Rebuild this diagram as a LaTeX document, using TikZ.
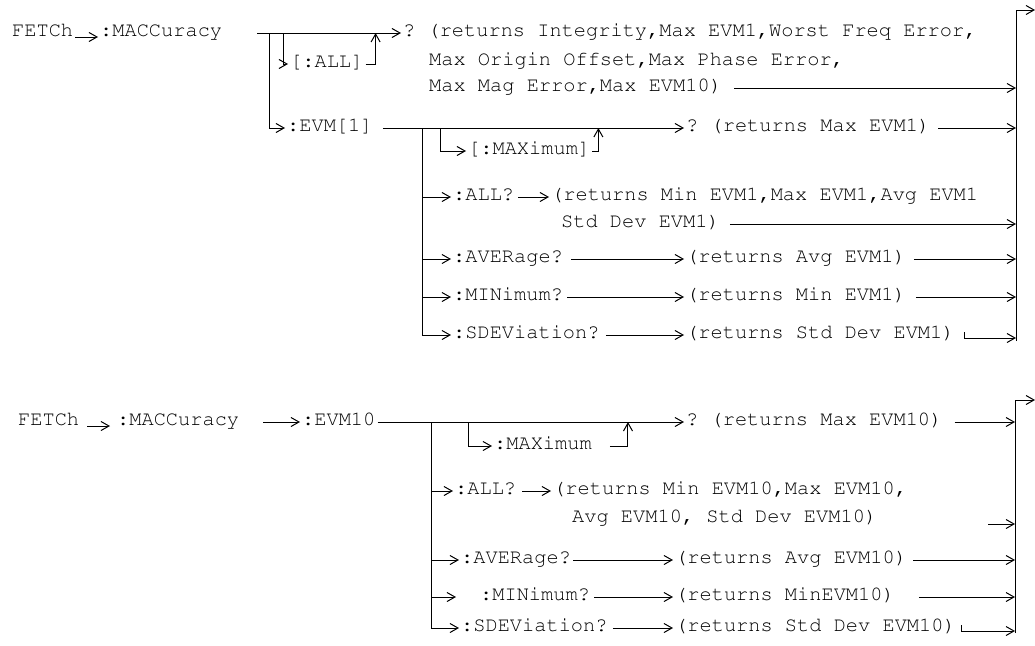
\documentclass[tikz,border=0pt]{standalone}
\usepackage[T1]{fontenc}
\usepackage{courier}
\usetikzlibrary{arrows.meta,calc}
\newcommand{\cmdfont}{\fontsize{20.33}{24}\selectfont\ttfamily\frenchspacing}
\tikzset{
  txt/.style={anchor=west,inner xsep=2pt,inner ysep=0pt,text height=10pt,text depth=4pt,font=\cmdfont},
  ln/.style={line width=1pt},
  arr/.style={ln,-{Straight Barb[length=8pt,width=9pt]}}
}
\begin{document}
\begin{tikzpicture}[x=1pt,y=-1pt]
        \useasboundingbox (0,0) rectangle (1035,645);
        % first tree: FETCh:MACCuracy[:ALL] and :EVM[1]
        \node[txt] (fetA) at (10,33) {FETCh};
        \node[txt] (macA) at (98,33) {:MACCuracy};
        \draw[arr] ([yshift=-4pt]fetA.east) -- ([yshift=-4pt]macA.west);
        \coordinate (mA) at (257,33);
        \coordinate (jA) at (269,33);
        \coordinate (kA) at (283,33);
        \node[txt] (qA) at (401,33) {? (returns Integrity,Max EVM1,Worst Freq Error,};
        \node[txt] (qA2) at (427,62) {Max Origin Offset,Max Phase Error,};
        \node[txt] (qA3) at (427,88) {Max Mag Error,Max EVM10)};
        \draw[arr] (mA) -- (qA.west);
        \node[txt] (allA) at (288,64) {[:ALL]};
        \draw[arr] (kA) |- (allA.west);
        \coordinate (uA0) at ([xshift=10pt]allA.east);
        \coordinate (uA) at (uA0 |- mA);
        \draw[arr] (allA.east) -| (uA);
        \node[txt] (evmA) at (285,128) {:EVM[1]};
        \draw[arr] (jA) |- (evmA.west);
        \node[txt] (qB) at (684,128) {? (returns Max EVM1)};
        \draw[arr] ([xshift=8pt]evmA.east) -- (qB.west);
        \coordinate (jB) at (422,128);
        \coordinate (kB) at (440,128);
        \node[txt] (maxA) at (466,151) {[:MAXimum]};
        \draw[arr] (kB) |- (maxA.west);
        \coordinate (uB0) at ([xshift=6pt]maxA.east);
        \coordinate (uB) at (uB0 |- jB);
        \draw[arr] (maxA.east) -| (uB);
        \node[txt] (allB) at (451,197) {:ALL?};
        \node[txt] (rAllB) at (549,197) {(returns Min EVM1,Max EVM1,Avg EVM1};
        \node[txt] (rAllB2) at (559,224) {Std Dev EVM1)};
        \node[txt] (avgB) at (451,259) {:AVERage?};
        \node[txt] (rAvgB) at (684,259) {(returns Avg EVM1)};
        \node[txt] (minB) at (451,297) {:MINimum?};
        \node[txt] (rMinB) at (684,297) {(returns Min EVM1)};
        \node[txt] (sdvB) at (451,335) {:SDEViation?};
        \node[txt] (rSdvB) at (684,335) {(returns Std Dev EVM1)};
        \foreach \n in {allB,avgB,minB,sdvB}
            \draw[arr] (jB) |- (\n.west);
        \draw[arr] ([xshift=2pt]allB.east) -- (rAllB.west);
        \draw[arr] ([xshift=6pt]avgB.east) -- (rAvgB.west);
        \draw[arr] ([xshift=2pt]minB.east) -- (rMinB.west);
        \draw[arr] ([xshift=4pt]sdvB.east) -- (rSdvB.west);
        % exit bar
        \coordinate (barA) at (1016,10);
        \coordinate (barA2) at (1016,341);
        \coordinate (outA) at (1035,10);
        \draw[arr] (barA2) -- (barA) -- (outA);
        \foreach \n/\g in {qA3/10,qB/6,rAllB2/8,rAvgB/6,rMinB/8}
            \draw[arr] ([xshift=\g pt]\n.east) -- (\n.east -| barA);
        \coordinate (tA) at ([xshift=8pt,yshift=3pt]rSdvB.east);
        \coordinate (bA6) at (1016,338);
        \draw[arr] (tA) |- (bA6);

        % second tree: FETCh:MACCuracy:EVM10
        \node[txt] (fetB) at (16,422) {FETCh};
        \node[txt] (macB) at (115,422) {:MACCuracy};
        \draw[arr] ([xshift=6pt,yshift=-4pt]fetB.east) -- ([xshift=-5pt,yshift=-4pt]macB.west);
        \node[txt] (evmB) at (300,422) {:EVM10};
        \draw[arr] ([xshift=22pt]macB.east) -- (evmB.west);
        \node[txt] (qC) at (684,422) {? (returns Max EVM10)};
        \draw[arr] (evmB.east) -- (qC.west);
        \coordinate (jC) at (431,422);
        \coordinate (kC) at (468,422);
        \node[txt] (maxB) at (492,446) {:MAXimum};
        \draw[arr] (kC) |- (maxB.west);
        \coordinate (uC0) at ([xshift=34pt]maxB.east);
        \coordinate (uC) at (uC0 |- jC);
        \draw[arr] ([xshift=16pt]maxB.east) -| (uC);
        \node[txt] (allC) at (453,491) {:ALL?};
        \node[txt] (rAllC) at (551,491) {(returns Min EVM10,Max EVM10,};
        \node[txt] (rAllC2) at (570,519) {Avg EVM10, Std Dev EVM10)};
        \node[txt] (avgC) at (459,560) {:AVERage?};
        \node[txt] (rAvgC) at (673,560) {(returns Avg EVM10)};
        \node[txt] (minC) at (478,597) {:MINimum?};
        \node[txt] (rMinC) at (673,597) {(returns MinEVM10)};
        \node[txt] (sdvC) at (459,628) {:SDEViation?};
        \node[txt] (rSdvC) at (673,628) {(returns Std Dev EVM10)};
        \draw[arr] (jC) |- (allC.west);
        \draw[arr] (jC) |- (avgC.west);
        \draw[arr] (jC) |- ([xshift=-22pt]minC.west);
        \draw[arr] (jC) |- (sdvC.west);
        \draw[arr] ([xshift=4pt]allC.east) -- (rAllC.west);
        \draw[arr] (avgC.east) -- (rAvgC.west);
        \draw[arr] ([xshift=2pt]minC.east) -- (rMinC.west);
        \draw[arr] ([xshift=3pt]sdvC.east) -- (rSdvC.west);
        % exit bar
        \coordinate (barB) at (1015,400);
        \coordinate (barB2) at (1015,633);
        \coordinate (outB) at (1035,400);
        \draw[arr] (barB2) -- (barB) -- (outB);
        \coordinate (sC) at (988,524);
        \draw[arr] (sC) -- (sC -| barB);
        \foreach \n/\g in {qC/10,rAvgC/4,rMinC/22}
            \draw[arr] ([xshift=\g pt]\n.east) -- (\n.east -| barB);
        \coordinate (tC) at ([xshift=4pt,yshift=3pt]rSdvC.east);
        \coordinate (bB5) at (1015,631);
        \draw[arr] (tC) |- (bB5);
\end{tikzpicture}
\end{document}
